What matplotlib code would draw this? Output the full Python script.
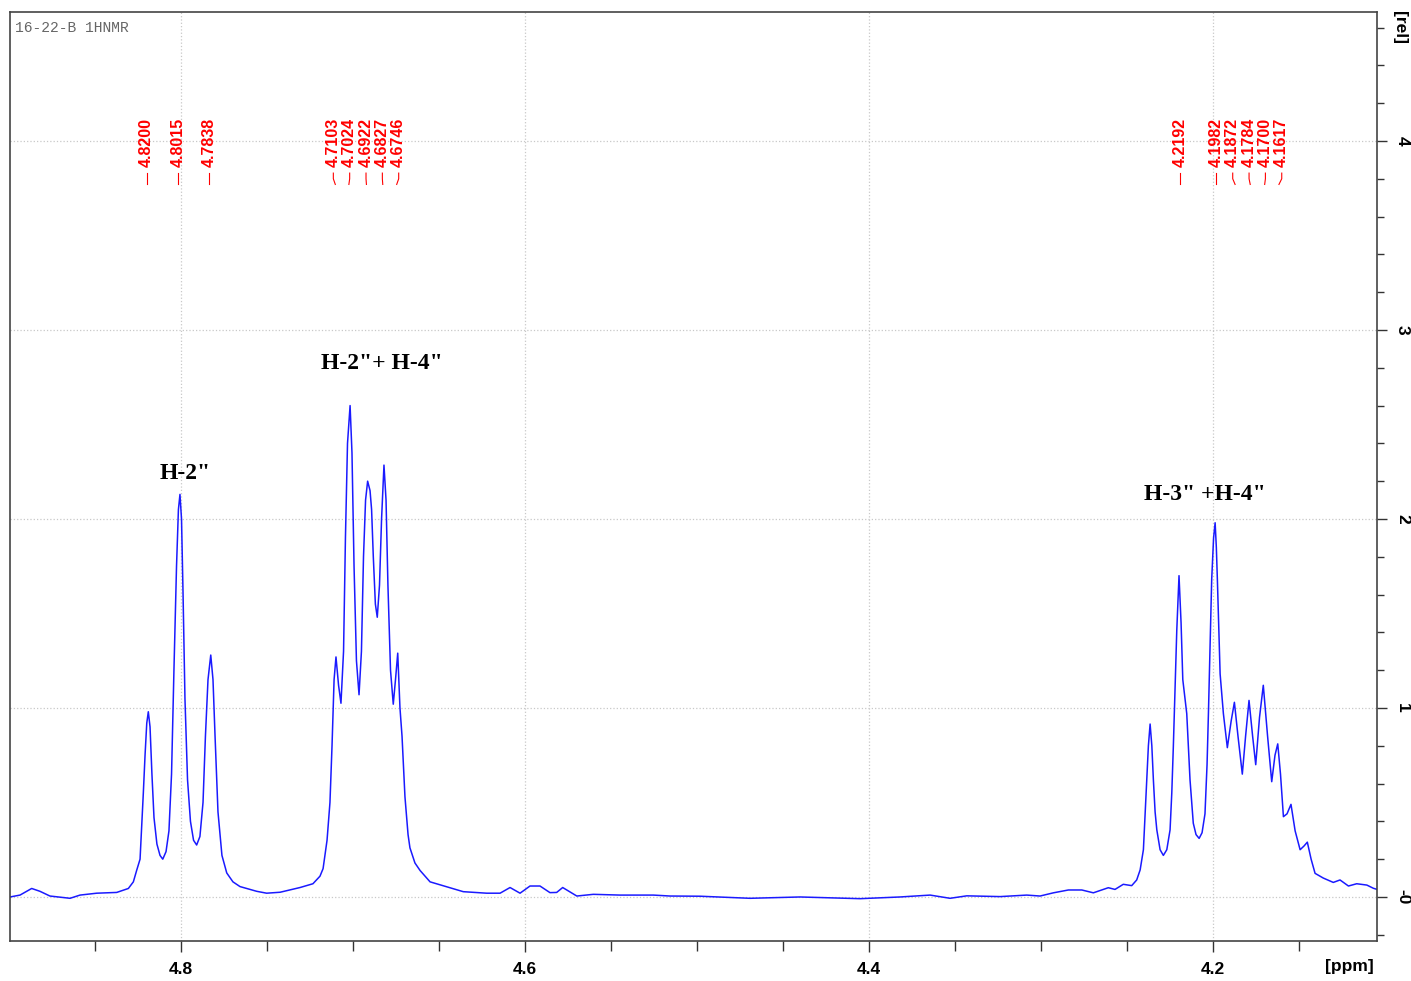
import matplotlib
matplotlib.use('Agg')
import matplotlib.pyplot as plt
from matplotlib.ticker import MultipleLocator, FixedLocator

# spectrum trace (ppm, rel. intensity)
ppm = [4.8994, 4.8936, 4.8868, 4.8820, 4.8762, 4.8645, 4.8587, 4.8490, 4.8374, 4.8306,
       4.8277, 4.8258, 4.8238, 4.8219, 4.8209, 4.8199, 4.8190, 4.8180, 4.8169, 4.8157,
       4.8140, 4.8122, 4.8106, 4.8087, 4.8070, 4.8055, 4.8041, 4.8026, 4.8015, 4.8006,
       4.7997, 4.7988, 4.7977, 4.7962, 4.7945, 4.7927, 4.7909, 4.7890, 4.7872, 4.7858,
       4.7843, 4.7827, 4.7814, 4.7802, 4.7785, 4.7762, 4.7734, 4.7698, 4.7657, 4.7560,
       4.7502, 4.7424, 4.7308, 4.7233, 4.7192, 4.7174, 4.7151, 4.7134, 4.7122, 4.7110,
       4.7099, 4.7084, 4.7070, 4.7055, 4.7044, 4.7032, 4.7017, 4.7006, 4.6994, 4.6980,
       4.6965, 4.6951, 4.6939, 4.6927, 4.6915, 4.6901, 4.6892, 4.6882, 4.6870, 4.6859,
       4.6846, 4.6834, 4.6820, 4.6808, 4.6797, 4.6782, 4.6766, 4.6753, 4.6740, 4.6727,
       4.6715, 4.6698, 4.6680, 4.6669, 4.6640, 4.6610, 4.6552, 4.6455, 4.6359, 4.6223,
       4.6145, 4.6087, 4.6029, 4.5971, 4.5913, 4.5855, 4.5816, 4.5781, 4.5699, 4.5603,
       4.5448, 4.5254, 4.5157, 4.4983, 4.4692, 4.4401, 4.4052, 4.3820, 4.3645, 4.3529,
       4.3432, 4.3238, 4.3083, 4.3006, 4.2928, 4.2841, 4.2763, 4.2696, 4.2609, 4.2570,
       4.2522, 4.2473, 4.2444, 4.2424, 4.2405, 4.2395, 4.2385, 4.2376, 4.2366, 4.2356,
       4.2347, 4.2337, 4.2327, 4.2308, 4.2289, 4.2269, 4.2250, 4.2240, 4.2231, 4.2221,
       4.2211, 4.2198, 4.2186, 4.2176, 4.2153, 4.2134, 4.2115, 4.2099, 4.2081, 4.2064,
       4.2047, 4.2035, 4.2027, 4.2017, 4.2008, 4.1997, 4.1988, 4.1981, 4.1975, 4.1959,
       4.1940, 4.1917, 4.1895, 4.1876, 4.1855, 4.1830, 4.1811, 4.1791, 4.1770, 4.1752,
       4.1730, 4.1708, 4.1683, 4.1659, 4.1640, 4.1624, 4.1608, 4.1591, 4.1570, 4.1547,
       4.1523, 4.1494, 4.1471, 4.1452, 4.1430, 4.1407, 4.1359, 4.1301, 4.1262, 4.1213,
       4.1165, 4.1106, 4.1068, 4.1046]
intensity = [0.000, 0.010, 0.045, 0.030, 0.005, -0.007, 0.010, 0.020, 0.024, 0.045,
             0.080, 0.140, 0.200, 0.550, 0.750, 0.920, 0.980, 0.900, 0.650, 0.420,
             0.280, 0.220, 0.200, 0.240, 0.350, 0.650, 1.200, 1.750, 2.050, 2.130,
             2.000, 1.600, 1.050, 0.620, 0.400, 0.300, 0.275, 0.320, 0.500, 0.850,
             1.150, 1.280, 1.150, 0.850, 0.450, 0.220, 0.127, 0.080, 0.055, 0.030,
             0.020, 0.025, 0.050, 0.070, 0.110, 0.150, 0.300, 0.500, 0.800, 1.150,
             1.270, 1.120, 1.025, 1.300, 1.900, 2.400, 2.600, 2.350, 1.750, 1.250,
             1.070, 1.300, 1.800, 2.100, 2.200, 2.150, 2.050, 1.800, 1.550, 1.480,
             1.650, 2.000, 2.285, 2.100, 1.650, 1.200, 1.020, 1.150, 1.290, 1.000,
             0.850, 0.530, 0.330, 0.260, 0.180, 0.140, 0.080, 0.054, 0.028, 0.020,
             0.020, 0.050, 0.020, 0.058, 0.058, 0.023, 0.024, 0.050, 0.005, 0.014,
             0.010, 0.010, 0.005, 0.004, -0.007, 0.000, -0.009, 0.000, 0.010, -0.007,
             0.006, 0.002, 0.010, 0.005, 0.022, 0.037, 0.037, 0.022, 0.049, 0.040,
             0.067, 0.060, 0.090, 0.143, 0.250, 0.440, 0.620, 0.800, 0.915, 0.800,
             0.620, 0.450, 0.355, 0.250, 0.220, 0.250, 0.355, 0.550, 0.795, 1.100,
             1.410, 1.700, 1.450, 1.150, 0.970, 0.620, 0.390, 0.330, 0.310, 0.340,
             0.440, 0.700, 0.970, 1.350, 1.680, 1.900, 1.980, 1.850, 1.680, 1.180,
             0.970, 0.790, 0.930, 1.030, 0.850, 0.650, 0.850, 1.040, 0.850, 0.700,
             0.950, 1.120, 0.850, 0.610, 0.750, 0.810, 0.650, 0.425, 0.440, 0.490,
             0.350, 0.250, 0.270, 0.290, 0.200, 0.125, 0.100, 0.077, 0.090, 0.058,
             0.070, 0.063, 0.046, 0.040]

# peak picking labels
peak_labels = [4.8200, 4.8015, 4.7838,
               4.7103, 4.7024, 4.6922, 4.6827, 4.6746,
               4.2192, 4.1982, 4.1872, 4.1784, 4.1700, 4.1617]

# assignments: (text, ppm, rel)
assign_text = ['H-2"', 'H-2"+ H-4"', 'H-3" +H-4"']
assign_x = [4.7977, 4.6831, 4.2047]
assign_y = [2.24, 2.82, 2.13]

fig = plt.figure(figsize=(14.11, 9.81), dpi=100)
ax = fig.add_axes([0.0071, 0.0408, 0.9688, 0.947])

ax.plot(ppm, intensity, color='#1a1aff', lw=1.1)

ax.set_xlim(4.8994, 4.1047)
ax.set_ylim(-0.2328, 4.6825)

# ticks
ax.xaxis.set_major_locator(FixedLocator([4.8, 4.6, 4.4, 4.2]))
ax.xaxis.set_minor_locator(MultipleLocator(0.05))
ax.set_xticklabels(['4.8', '4.6', '4.4', '4.2'])
ax.yaxis.tick_right()
ax.yaxis.set_major_locator(FixedLocator([0, 1, 2, 3, 4]))
ax.yaxis.set_minor_locator(MultipleLocator(0.2))
ax.set_yticklabels(['-0', '1', '2', '3', '4'], rotation=-90, va='center')
ax.tick_params(axis='x', which='major', length=8, width=1, direction='out',
               labelsize=12.5, pad=7, colors='#333333')
ax.tick_params(axis='x', which='minor', length=7, width=1, direction='out', colors='#333333')
ax.tick_params(axis='y', which='major', length=7, width=1, direction='out',
               labelsize=12.5, pad=6, colors='#333333')
ax.tick_params(axis='y', which='minor', length=5, width=1, direction='out', colors='#333333')
for lab in ax.get_xticklabels() + ax.get_yticklabels():
    lab.set_fontweight('bold')
    lab.set_color('black')
    lab.set_family('Liberation Sans')

for s in ax.spines.values():
    s.set_color('#444444')
    s.set_linewidth(1.2)

ax.grid(True, which='major', color='#c8c8c8', linestyle=':', linewidth=0.9)

ax.text(0.980, -0.028, '[ppm]', transform=ax.transAxes, ha='center', va='center',
        fontsize=12.5, fontweight='bold', family='Liberation Sans')
ax.text(1.0168, 0.983, '[rel]', transform=ax.transAxes, ha='center', va='center',
        rotation=-90, fontsize=12.5, fontweight='bold', family='Liberation Sans')

ax.text(0.004, 0.983, '16-22-B 1HNMR', transform=ax.transAxes, ha='left', va='center',
        fontsize=10.5, color='#666666', family='Liberation Mono')

# peak labels: spread crowded ones apart a bit, like the peak-picking display
gap = 0.0095
disp = list(peak_labels)
for _ in range(200):
    for i in range(1, len(disp)):
        d = disp[i - 1] - disp[i]
        if d < gap:
            disp[i - 1] += (gap - d) / 2
            disp[i] -= (gap - d) / 2

for p, dx in zip(peak_labels, disp):
    ax.text(dx, 3.86, '%.4f' % p, rotation=90, ha='center', va='bottom',
            color='red', fontsize=11.5, fontweight='bold', family='Liberation Sans')
    ax.plot([dx, dx, p], [3.83, 3.80, 3.77], color='red', lw=0.8)

for t, x, y in zip(assign_text, assign_x, assign_y):
    ax.text(x, y, t, ha='center', va='center', fontsize=17, fontweight='bold',
            family='Liberation Serif')

fig.savefig('out.png', dpi=100)
